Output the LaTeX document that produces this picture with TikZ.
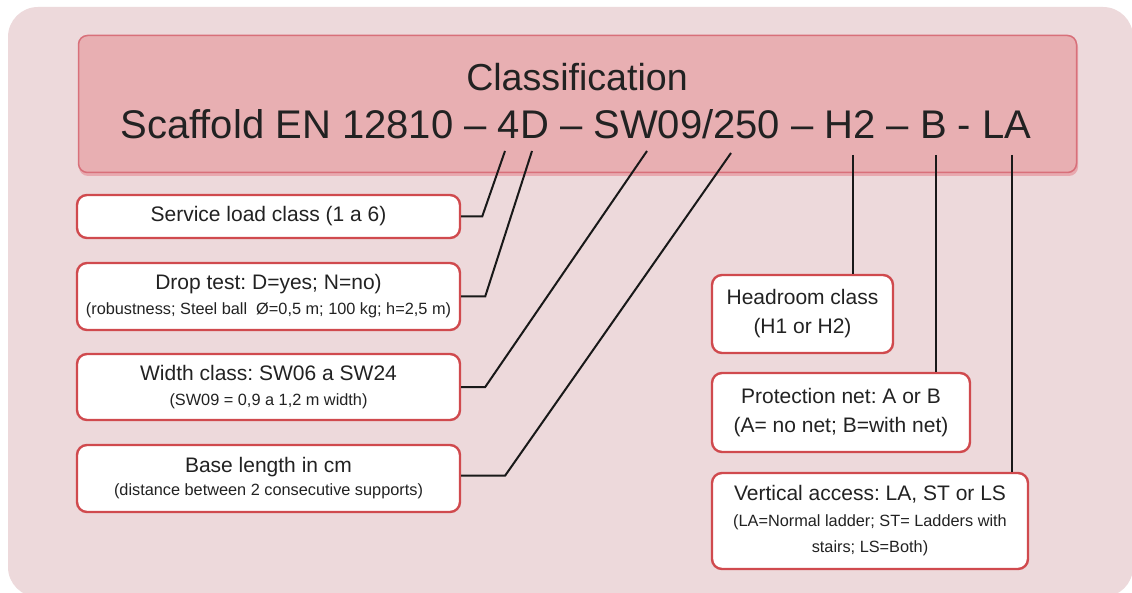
\documentclass[tikz,border=0pt]{standalone}
\usepackage{fontspec}
\setmainfont{Liberation Sans}
\usetikzlibrary{calc}
\frenchspacing
\definecolor{bgpink}{HTML}{EDD9DB}
\definecolor{titlefill}{HTML}{E8AFB2}
\definecolor{titleedge}{HTML}{D8707A}
\definecolor{boxedge}{HTML}{D04A4E}
\definecolor{ink}{HTML}{222222}
\tikzset{
  x=1pt, y=-1pt,
  infobox/.style={draw=boxedge, line width=2.4pt, fill=white, rounded corners=10pt,
    align=center, text=ink, inner sep=0pt, font=\fontsize{21}{29}\selectfont},
  conn/.style={draw=black!90, line width=2pt},
}
\newcommand{\sm}{\fontsize{16.3}{25}\selectfont}
\begin{document}
\begin{tikzpicture}
\useasboundingbox (0,0) rectangle (1132,593);
% background panel
\fill[white] (0,0) rectangle (1132,593);
\fill[bgpink, rounded corners=30pt] (8,7) rectangle (1133,597);
% title box
\fill[titleedge!60, rounded corners=9pt] (79,38) rectangle (1078,176);
\node[draw=titleedge, line width=1.5pt, fill=titlefill, rounded corners=9pt,
  minimum width=998, minimum height=137, inner sep=0pt] (title) at (577.5,104) {};
\node[text=ink, font=\fontsize{37.6}{40}\selectfont, anchor=base] (t1) at (577,91) {Classification};
\node[text=ink, font=\fontsize{40}{42}\selectfont, anchor=base] (t2) at (576,139) {Scaffold EN 12810 – 4D – SW09/250 – H2 – B - LA};
% left boxes
\node[infobox, minimum width=383, minimum height=43] (s1) at (268.5,216.5) {Service load class (1 a 6)};
\node[infobox, minimum width=383, minimum height=67] (s2) at (268.5,296.5) {Drop test: D=yes; N=no)\\[-4pt]{\sm (robustness; Steel ball\ \ Ø=0,5 m; 100 kg; h=2,5 m)}};
\node[infobox, minimum width=383, minimum height=66] (s3) at (268.5,387) {Width class: SW06 a SW24\\[-4pt]{\sm (SW09 = 0,9 a 1,2 m width)}};
\node[infobox, minimum width=383, minimum height=67] (s4) at (268.5,478.5) {Base length in cm\\[-6pt]{\sm (distance between 2 consecutive supports)}};
% right boxes
\node[infobox, minimum width=181, minimum height=78] (h) at (802.5,314) {Headroom class\\(H1 or H2)};
\node[infobox, minimum width=258, minimum height=79] (p) at (841,412.5) {Protection net: A or B\\(A= no net; B=with net)};
\node[infobox, minimum width=316, minimum height=96] (v) at (870,521) {Vertical access: LA, ST or LS\\[-3pt]{\sm (LA=Normal ladder; ST= Ladders with}\\[-3pt]{\sm stairs; LS=Both)}};
% connector ends on title
\coordinate (c1) at (505,151);
\coordinate (c2) at (532,151);
\coordinate (c3) at (647,151);
\coordinate (c4) at (731,153);
\coordinate (c5) at (853,155);
\coordinate (c6) at (936,155);
\coordinate (c7) at (1012,155);
% connectors
\draw[conn] (s1.east) -- ++(21,0) -- (c1);
\draw[conn] (s2.east) -- ++(24,0) -- (c2);
\draw[conn] (s3.east) -- ++(24,0) -- (c3);
\draw[conn] ($(s4.east)+(0,-3)$) -- ++(44,0) -- (c4);
\draw[conn] (c5) -- (c5 |- h.north);
\draw[conn] (c6) -- (c6 |- p.north);
\draw[conn] (c7) -- (c7 |- v.north);
\end{tikzpicture}
\end{document}
